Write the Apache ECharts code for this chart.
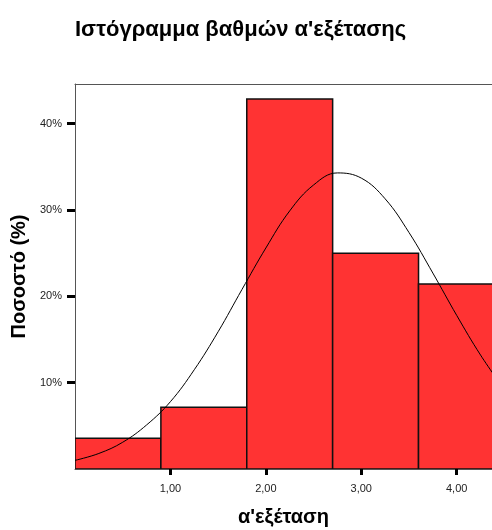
<!DOCTYPE html>
<html><head><meta charset="utf-8">
<script src="https://cdn.jsdelivr.net/npm/echarts@6/dist/echarts.min.js"></script>
<style>html,body{margin:0;padding:0;background:#fff}#c{width:492px;height:530px}</style>
</head><body><div id="c"></div>
<script>
// Bin edges (α'εξέταση) and percentages per bin
const binEdges = [0, 0.9, 1.8, 2.7, 3.6, 4.5];
const binPercent = [3.57, 7.14, 42.86, 25.0, 21.43];
// Normal curve points
const curveX = [0, 0.25, 0.5, 0.75, 1.0, 1.25, 1.5, 1.75, 2.0, 2.25, 2.5, 2.75, 3.0, 3.25, 3.5, 3.75, 4.0, 4.25, 4.5];
const curveY = [1.0, 1.8, 3.1, 5.1, 7.8, 11.5, 15.9, 20.8, 25.6, 29.9, 32.9, 34.3, 33.7, 31.3, 27.4, 22.7, 17.8, 13.2, 9.2];
const xTickValues = [1, 2, 3, 4];
const yTickValues = [10, 20, 30, 40];

const barData = binPercent.map((v, i) => [binEdges[i], binEdges[i + 1], v]);
const lineData = curveX.map((x, i) => [x, curveY[i]]);
const FONT = 'Liberation Sans, Arial, sans-serif';

const chart = echarts.init(document.getElementById('c'));
chart.setOption({
  animation: false,
  title: {
    text: "Ιστόγραμμα βαθμών α'εξέτασης",
    left: 70, top: 14,
    textStyle: { fontFamily: FONT, fontWeight: 'bold', fontSize: 22, color: '#000' }
  },
  grid: { left: 75, top: 84, right: 0, bottom: 61, show: false, outerBoundsMode: 'none', containLabel: false },
  xAxis: [{
    type: 'value', min: 0, max: 4.37,
    name: "α'εξέταση", nameLocation: 'middle', nameGap: 38,
    nameTextStyle: { fontFamily: FONT, fontWeight: 'bold', fontSize: 20, color: '#000' },
    axisLine: { show: true, onZero: false, lineStyle: { color: '#555', width: 1 } },
    axisTick: { show: true, customValues: xTickValues, length: 6, lineStyle: { color: '#000', width: 3 } },
    axisLabel: { customValues: xTickValues, formatter: v => v.toFixed(2).replace('.', ','), fontFamily: FONT, fontSize: 11, color: '#222', margin: 14 },
    splitLine: { show: false }
  }, {
    type: 'value', min: 0, max: 4.37, position: 'top',
    axisLine: { show: true, onZero: false, lineStyle: { color: '#555', width: 1 } },
    axisTick: { show: false }, axisLabel: { show: false }, splitLine: { show: false }
  }],
  yAxis: {
    type: 'value', min: 0, max: 44.6,
    name: 'Ποσοστό (%)', nameLocation: 'middle', nameGap: 46, nameRotate: 90,
    nameTextStyle: { fontFamily: FONT, fontWeight: 'bold', fontSize: 20, color: '#000' },
    axisLine: { show: true, lineStyle: { color: '#555', width: 1 } },
    axisTick: { show: true, customValues: yTickValues, length: 8, lineStyle: { color: '#000', width: 3 } },
    axisLabel: { customValues: yTickValues, formatter: v => v + '%', fontFamily: FONT, fontSize: 11, color: '#222', margin: 13 },
    splitLine: { show: false }
  },
  series: [
    {
      type: 'custom',
      data: barData,
      clip: true,
      renderItem: function (params, api) {
        const p0 = api.coord([api.value(0), 0]);
        const p1 = api.coord([api.value(1), api.value(2)]);
        return {
          type: 'rect',
          shape: { x: p0[0], y: p1[1], width: p1[0] - p0[0], height: p0[1] - p1[1] },
          style: { fill: '#ff3333', stroke: '#111', lineWidth: 1.5 }
        };
      },
      encode: { x: [0, 1], y: 2 },
      z: 2
    },
    {
      type: 'line',
      data: lineData,
      smooth: 0.4,
      showSymbol: false,
      clip: true,
      lineStyle: { color: '#000', width: 1 },
      z: 3
    }
  ]
});
</script></body></html>
